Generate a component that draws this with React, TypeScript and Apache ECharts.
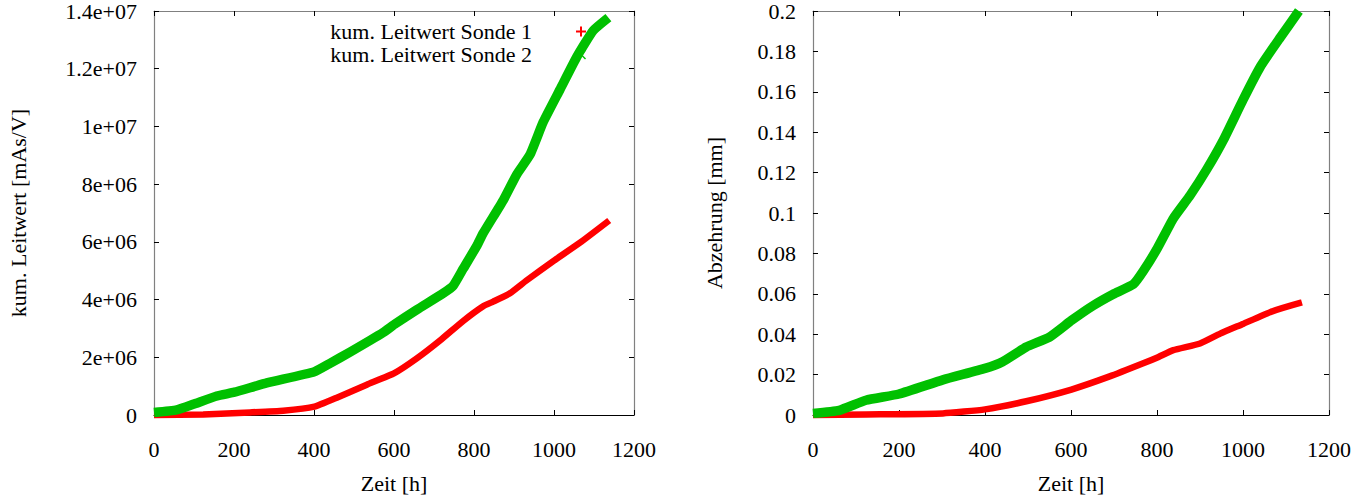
import React, { useEffect, useRef } from "react";
import * as echarts from "echarts";

// ---- data ----
const leitS1Hours = [0, 123, 240, 323, 401, 457, 532, 601, 657, 715, 773, 823, 848, 890, 932, 1000, 1065, 1138];
const leitS1Values = [0, 0.02e6, 0.09e6, 0.15e6, 0.29e6, 0.6e6, 1.05e6, 1.45e6, 1.96e6, 2.58e6, 3.26e6, 3.77e6, 3.93e6, 4.22e6, 4.67e6, 5.35e6, 5.97e6, 6.74e6];

const leitS2Hours = [0, 57, 98, 157, 201, 282, 401, 440, 490, 573, 601, 657, 723, 748, 773, 807, 823, 873, 907, 940, 973, 1015, 1057, 1098, 1136];
const leitS2Values = [0.09e6, 0.18e6, 0.37e6, 0.66e6, 0.79e6, 1.11e6, 1.5e6, 1.79e6, 2.18e6, 2.86e6, 3.14e6, 3.65e6, 4.22e6, 4.48e6, 5.07e6, 5.86e6, 6.3e6, 7.44e6, 8.34e6, 9.02e6, 10.15e6, 11.28e6, 12.41e6, 13.32e6, 13.77e6];

const abzS1Hours = [0, 123, 302, 400, 496, 601, 690, 768, 801, 838, 900, 947, 1000, 1063, 1137];
const abzS1Values = [0, 0.0003, 0.0008, 0.0028, 0.0068, 0.0126, 0.0191, 0.0256, 0.0285, 0.0321, 0.0354, 0.0403, 0.0451, 0.0509, 0.0557];

const abzS2Hours = [0, 61, 123, 200, 302, 400, 441, 496, 550, 601, 651, 698, 745, 768, 801, 838, 877, 916, 955, 1000, 1040, 1087, 1130];
const abzS2Values = [0.0008, 0.0023, 0.0073, 0.0104, 0.0174, 0.0231, 0.0264, 0.0337, 0.0386, 0.0468, 0.0541, 0.0598, 0.0647, 0.0712, 0.0826, 0.0973, 0.1087, 0.1217, 0.1364, 0.156, 0.1723, 0.187, 0.2];

const xTickLabels = ["0", "200", "400", "600", "800", "1000", "1200"];
const leftYTickLabels = ["0", "2e+06", "4e+06", "6e+06", "8e+06", "1e+07", "1.2e+07", "1.4e+07"];
const rightYTickLabels = ["0", "0.02", "0.04", "0.06", "0.08", "0.1", "0.12", "0.14", "0.16", "0.18", "0.2"];

const seriesNames = ["kum. Leitwert Sonde 1", "kum. Leitwert Sonde 2"];
const xAxisName = "Zeit [h]";
const leftYAxisName = "kum. Leitwert [mAs/V]";
const rightYAxisName = "Abzehrung [mm]";

const RED = "#ff0000";
const GREEN = "#00c000";
const FONT = "'Liberation Serif', 'Times New Roman', serif";

const zip = (xs: number[], ys: number[]) => xs.map((x, i) => [x, ys[i]]);

export default function App() {
  const ref = useRef<HTMLDivElement>(null);
  useEffect(() => {
    if (!ref.current) return;
    const chart = echarts.init(ref.current, null, { renderer: "svg" });

    const labelStyle = { color: "#000", fontFamily: FONT, fontSize: 22 };
    const mainX = (gridIndex: number) => ({
      type: "value",
      gridIndex,
      min: 0,
      max: 1200,
      interval: 200,
      position: "bottom",
      name: xAxisName,
      nameLocation: "middle",
      nameGap: 57,
      nameTextStyle: { ...labelStyle },
      axisLine: { show: true, onZero: false, lineStyle: { color: "#000", width: 1.2 } },
      axisTick: { show: true, inside: true, length: 5, lineStyle: { color: "#000" } },
      axisLabel: {
        ...labelStyle,
        margin: 23,
        formatter: (v: number) => xTickLabels[Math.round(v / 200)] ?? "",
      },
      splitLine: { show: false },
    });
    const mirrorX = (gridIndex: number) => ({
      type: "value",
      gridIndex,
      min: 0,
      max: 1200,
      interval: 200,
      position: "top",
      axisLine: { show: true, onZero: false, lineStyle: { color: "#808080", width: 1.2 } },
      axisTick: { show: true, inside: true, length: 5, lineStyle: { color: "#000" } },
      axisLabel: { show: false },
      splitLine: { show: false },
    });
    const mirrorY = (gridIndex: number, max: number, interval: number) => ({
      type: "value",
      gridIndex,
      min: 0,
      max,
      interval,
      position: "right",
      axisLine: { show: true, onZero: false, lineStyle: { color: "#808080", width: 1.2 } },
      axisTick: { show: true, inside: true, length: 5, lineStyle: { color: "#000" } },
      axisLabel: { show: false },
      splitLine: { show: false },
    });

    const lineSeries = (
      name: string,
      data: number[][],
      xAxisIndex: number,
      yAxisIndex: number,
      color: string,
      width: number
    ) => ({
      type: "line",
      name,
      data,
      xAxisIndex,
      yAxisIndex,
      showSymbol: false,
      symbol: "none",
      clip: false,
      smooth: 0.15,
      color,
      lineStyle: { color, width, join: "round", cap: "butt" },
      emphasis: { disabled: true },
    });

    chart.setOption({
      animation: false,
      backgroundColor: "#fff",
      textStyle: { fontFamily: FONT },
      grid: [
        { left: 154, top: 10, width: 480, height: 413, containLabel: false },
        { left: 813, top: 10, width: 516, height: 409, containLabel: false },
      ],
      xAxis: [mainX(0), mirrorX(0), mainX(1), mirrorX(1)],
      yAxis: [
        {
          type: "value",
          gridIndex: 0,
          min: 0,
          max: 1.4e7,
          interval: 2e6,
          position: "left",
          name: leftYAxisName,
          nameLocation: "middle",
          nameGap: 125,
          nameTextStyle: { ...labelStyle },
          axisLine: { show: true, onZero: false, lineStyle: { color: "#808080", width: 1.2 } },
          axisTick: { show: true, inside: true, length: 5, lineStyle: { color: "#000" } },
          axisLabel: {
            ...labelStyle,
            margin: 17,
            padding: [9, 0, 0, 0],
            formatter: (v: number) => leftYTickLabels[Math.round(v / 2e6)] ?? "",
          },
          splitLine: { show: false },
        },
        mirrorY(0, 1.4e7, 2e6),
        {
          type: "value",
          gridIndex: 1,
          min: 0,
          max: 0.2,
          interval: 0.02,
          position: "left",
          name: rightYAxisName,
          nameLocation: "middle",
          nameGap: 88,
          nameTextStyle: { ...labelStyle },
          axisLine: { show: true, onZero: false, lineStyle: { color: "#808080", width: 1.2 } },
          axisTick: { show: true, inside: true, length: 5, lineStyle: { color: "#000" } },
          axisLabel: {
            ...labelStyle,
            margin: 17,
            padding: [9, 0, 0, 0],
            formatter: (v: number) => rightYTickLabels[Math.round(v / 0.02)] ?? "",
          },
          splitLine: { show: false },
        },
        mirrorY(1, 0.2, 0.02),
      ],
      legend: {
        orient: "vertical",
        right: 779,
        top: 10,
        align: "right",
        itemWidth: 10,
        itemHeight: 10,
        itemGap: -10,
        selectedMode: false,
        textStyle: { ...labelStyle, lineHeight: 23, padding: [10, 39, 0, 0] },
        data: [
          { name: seriesNames[0], icon: "path://M4,0H6V4H10V6H6V10H4V6H0V4H4Z" },
          { name: seriesNames[1], icon: "path://M1,0L5,4L9,0L10,1L6,5L10,9L9,10L5,6L1,10L0,9L4,5L0,1Z" },
        ],
      },
      series: [
        lineSeries(seriesNames[0], zip(leitS1Hours, leitS1Values), 0, 0, RED, 6.5),
        lineSeries(seriesNames[1], zip(leitS2Hours, leitS2Values), 0, 0, GREEN, 9.5),
        lineSeries("Abzehrung Sonde 1", zip(abzS1Hours, abzS1Values), 2, 2, RED, 6.5),
        lineSeries("Abzehrung Sonde 2", zip(abzS2Hours, abzS2Values), 2, 2, GREEN, 9.5),
      ],
    });

    return () => chart.dispose();
  }, []);

  return (
    <div
      ref={ref}
      style={{ position: "fixed", left: 0, top: 0, width: 1370, height: 499, background: "#fff" }}
    />
  );
}
